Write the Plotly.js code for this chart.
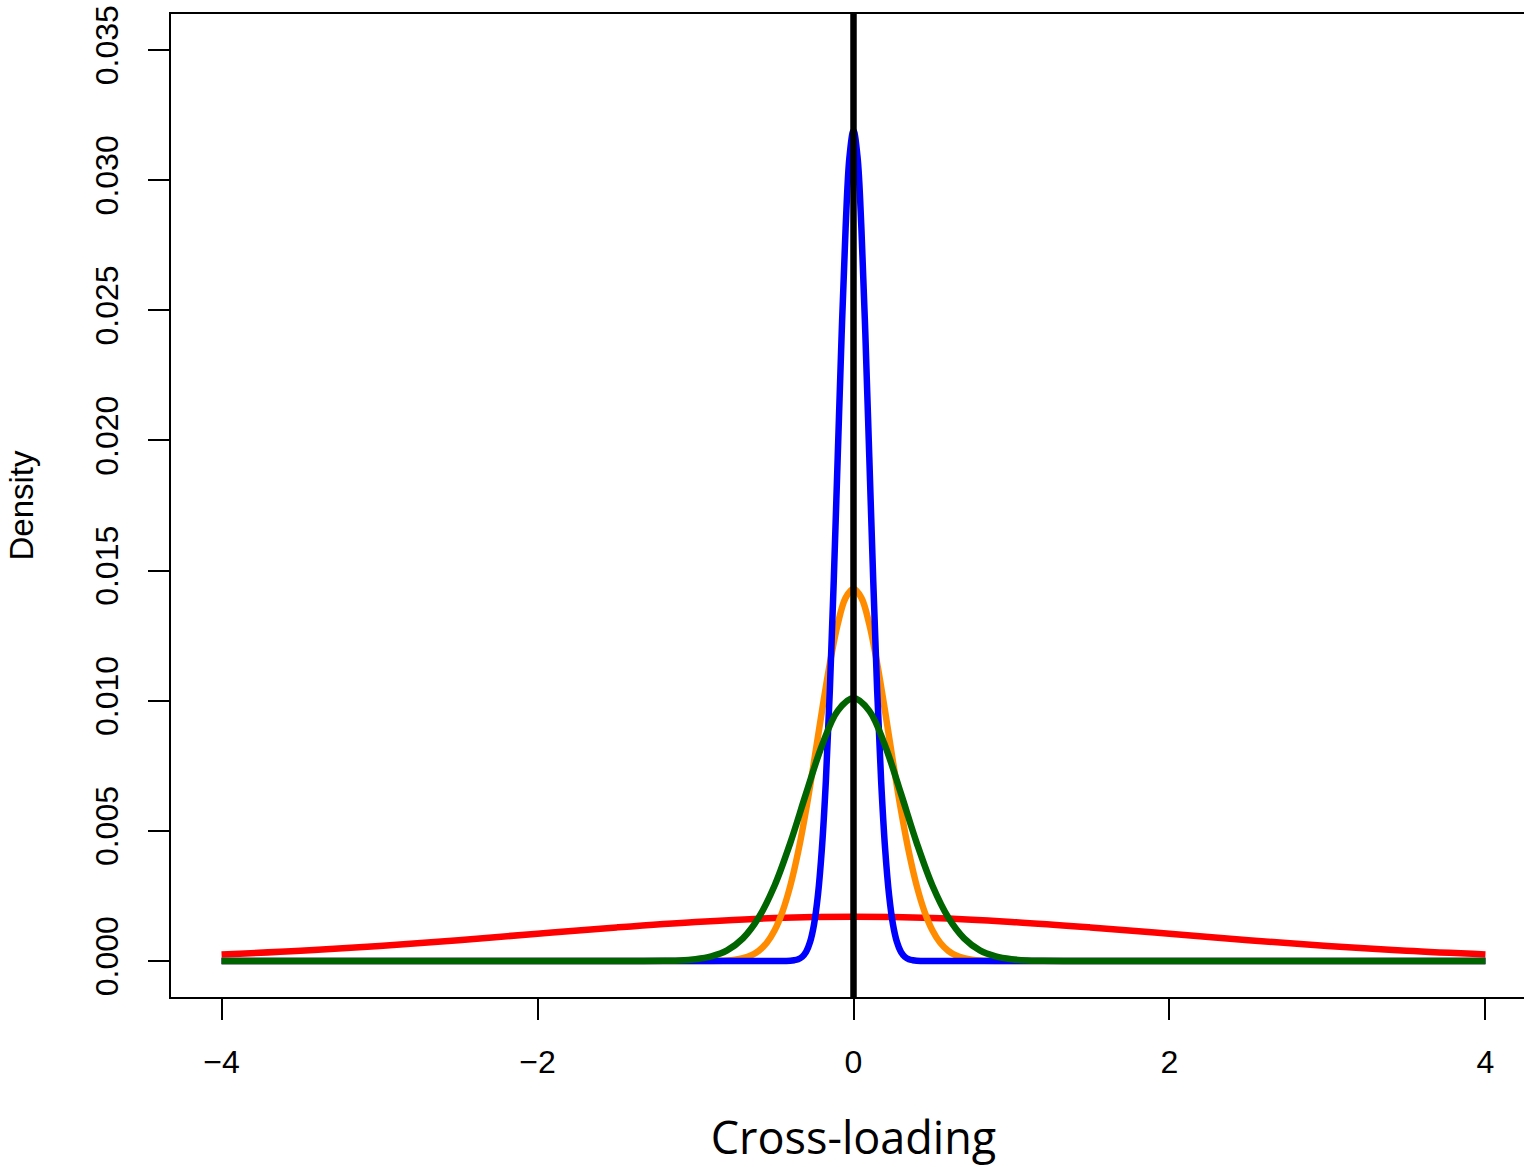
<!DOCTYPE html>
<html>
<head>
<meta charset="utf-8">
<script src="https://cdn.plot.ly/plotly-3.0.1.min.js"></script>
<style>
html, body { margin: 0; padding: 0; overflow: hidden; background: #fff; }
#chart { width: 1560px; height: 1167px; }
</style>
</head>
<body>
<div id="chart"></div>
<script>
// Values
const redX = [-4, -3.5, -3, -2.5, -2, -1.5, -1, -0.5, 0, 0.5, 1, 1.5, 2, 2.5, 3, 3.5, 4];
const redY = [0.00025, 0.00039, 0.00058, 0.00080, 0.00105, 0.00129, 0.00150, 0.00165, 0.00170,
              0.00165, 0.00150, 0.00129, 0.00105, 0.00080, 0.00058, 0.00039, 0.00025];

const orangeX = [-4, -1, -0.8, -0.75, -0.7, -0.65, -0.6, -0.55, -0.5, -0.45, -0.4, -0.35, -0.3, -0.25, -0.2, -0.15, -0.1, -0.05,
                 0, 0.05, 0.1, 0.15, 0.2, 0.25, 0.3, 0.35, 0.4, 0.45, 0.5, 0.55, 0.6, 0.65, 0.7, 0.75, 0.8, 1, 4];
const orangeY = [0, 0, 0.00002, 0.00005, 0.00011, 0.00021, 0.00039, 0.00069, 0.00117, 0.00189, 0.00289, 0.00420, 0.00581, 0.00765, 0.00959, 0.01142, 0.01294, 0.01395,
                 0.01430, 0.01395, 0.01294, 0.01142, 0.00959, 0.00765, 0.00581, 0.00420, 0.00289, 0.00189, 0.00117, 0.00069, 0.00039, 0.00021, 0.00011, 0.00005, 0.00002, 0, 0];

const blueX = [-4, -1, -0.5, -0.4, -0.375, -0.35, -0.325, -0.3, -0.275, -0.25, -0.225, -0.2, -0.175, -0.15, -0.125, -0.1, -0.075, -0.05, -0.025,
               0, 0.025, 0.05, 0.075, 0.1, 0.125, 0.15, 0.175, 0.2, 0.225, 0.25, 0.275, 0.3, 0.325, 0.35, 0.375, 0.4, 0.5, 1, 4];
const blueY = [0, 0, 0, 0.00001, 0.00003, 0.00007, 0.00016, 0.00035, 0.00073, 0.00140, 0.00254, 0.00432, 0.00690, 0.01036, 0.01460, 0.01935, 0.02408, 0.02815, 0.03092,
               0.03190, 0.03092, 0.02815, 0.02408, 0.01935, 0.01460, 0.01036, 0.00690, 0.00432, 0.00254, 0.00140, 0.00073, 0.00035, 0.00016, 0.00007, 0.00003, 0.00001, 0, 0, 0];

const greenX = [-4, -1.6, -1.4, -1.2, -1.1, -1.0, -0.9, -0.8, -0.7, -0.6, -0.5, -0.4, -0.3, -0.2, -0.1,
                0, 0.1, 0.2, 0.3, 0.4, 0.5, 0.6, 0.7, 0.8, 0.9, 1.0, 1.1, 1.2, 1.4, 1.6, 4];
const greenY = [0, 0, 0, 0.00001, 0.00002, 0.00007, 0.00018, 0.00041, 0.00087, 0.00167, 0.00289, 0.00454, 0.00644, 0.00827, 0.00961,
                0.01010, 0.00961, 0.00827, 0.00644, 0.00454, 0.00289, 0.00167, 0.00087, 0.00041, 0.00018, 0.00007, 0.00002, 0.00001, 0, 0, 0];

const xTicks = [-4, -2, 0, 2, 4];
const yTicks = [0, 0.005, 0.010, 0.015, 0.020, 0.025, 0.030, 0.035];
const yTickText = ["0.000", "0.005", "0.010", "0.015", "0.020", "0.025", "0.030", "0.035"];
const refLineX = 0;

const lw = 6.5;
const traces = [
  {x: redX, y: redY, mode: 'lines', line: {color: '#FF0000', width: lw, shape: 'spline'}},
  {x: orangeX, y: orangeY, mode: 'lines', line: {color: '#FF8C00', width: lw, shape: 'spline'}},
  {x: blueX, y: blueY, mode: 'lines', line: {color: '#0000FF', width: lw, shape: 'spline'}},
  {x: greenX, y: greenY, mode: 'lines', line: {color: '#006400', width: lw, shape: 'spline'}}
];

const axisCommon = {
  showgrid: false, zeroline: false, showline: true, mirror: true,
  linecolor: '#000', linewidth: 2, ticks: 'outside', ticklen: 21, tickwidth: 2, tickcolor: '#000',
  tickfont: {family: 'Liberation Sans, Arial, sans-serif', size: 32, color: '#000'}
};

const layout = {
  width: 1560, height: 1167,
  margin: {l: 171, r: 24, t: 14, b: 170},
  paper_bgcolor: '#fff', plot_bgcolor: '#fff',
  showlegend: false,
  xaxis: Object.assign({}, axisCommon, {
    range: [-4.32, 4.32], tickvals: xTicks, ticklabelstandoff: 15,
    title: {text: 'Cross-loading', font: {family: 'Open Sans, sans-serif', size: 45, color: '#000'}, standoff: 44}
  }),
  yaxis: Object.assign({}, axisCommon, {
    range: [-0.001383, 0.036383], tickvals: yTicks, ticktext: yTickText, tickangle: -90, ticklabelstandoff: 17,
    title: {text: 'Density', font: {family: 'Liberation Sans, Arial, sans-serif', size: 33, color: '#000'}, standoff: 46}
  }),
  shapes: [{type: 'line', xref: 'x', yref: 'paper', x0: refLineX, x1: refLineX, y0: 0, y1: 1,
            line: {color: '#000', width: 6.5}}]
};

Plotly.newPlot('chart', traces, layout, {displayModeBar: false, staticPlot: true});
</script>
</body>
</html>
